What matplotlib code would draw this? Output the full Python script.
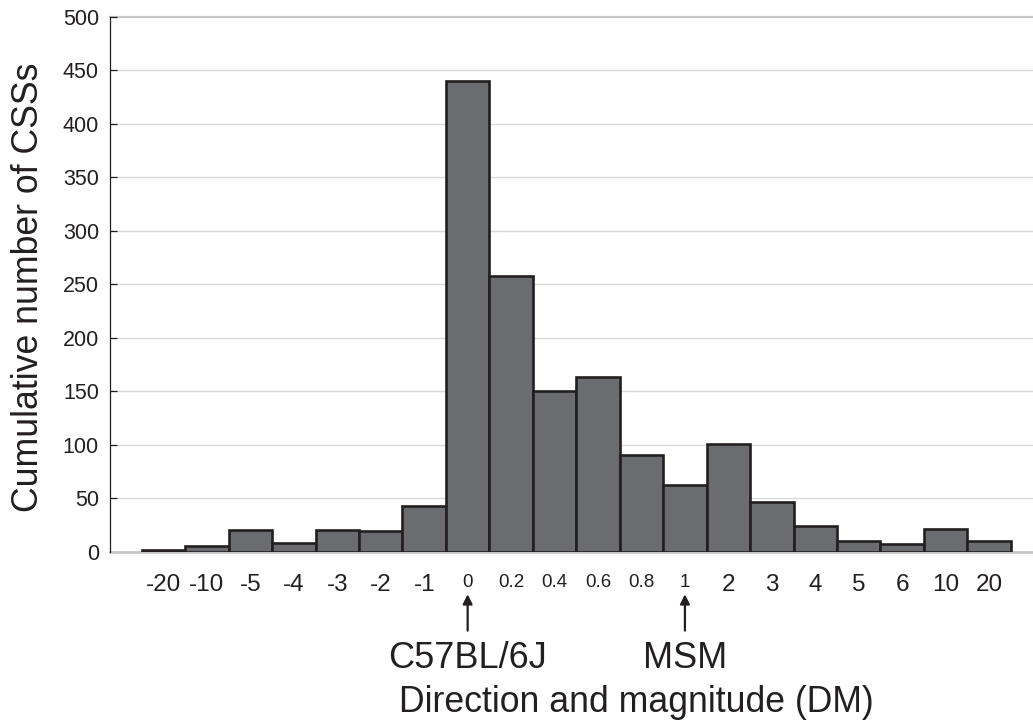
import numpy as np
import matplotlib
matplotlib.use("Agg")
import matplotlib.pyplot as plt
import matplotlib.transforms as mtrans

plt.rcParams["font.family"] = ["Liberation Sans", "DejaVu Sans"]

dm_labels = ["-20", "-10", "-5", "-4", "-3", "-2", "-1", "0", "0.2", "0.4",
             "0.6", "0.8", "1", "2", "3", "4", "5", "6", "10", "20"]
css_counts = [1, 5, 20, 8, 20, 19, 43, 440, 258, 150,
              163, 90, 62, 101, 46, 24, 10, 7, 21, 10]
small_labels = ["0", "0.2", "0.4", "0.6", "0.8", "1"]
y_ticks = [0, 50, 100, 150, 200, 250, 300, 350, 400, 450, 500]

BAR_COLOR = "#6b6c70"
EDGE_COLOR = "#231f20"

fig = plt.figure(figsize=(10.33, 7.27), dpi=100)
ax = fig.add_axes([0.1065, 0.2414, 0.8935, 0.7352])

x = np.arange(len(dm_labels))
ax.bar(x, css_counts, width=1.0, color=BAR_COLOR, edgecolor=EDGE_COLOR,
       linewidth=1.9, zorder=3)

ax.set_xlim(-1.23, 20.01)
ax.set_ylim(0, 500)

# horizontal gridlines
for yv in y_ticks[1:-1]:
    ax.axhline(yv, color="#d9d9d9", linewidth=1.0, zorder=1)
ax.axhline(500, color="#c8c8c8", linewidth=1.6, zorder=1, clip_on=False)

ax.spines["top"].set_visible(False)
ax.spines["right"].set_visible(False)
ax.spines["left"].set_color("#231f20")
ax.spines["left"].set_linewidth(0.9)
ax.spines["bottom"].set_color("#c8c8c8")
ax.spines["bottom"].set_linewidth(2.0)
ax.spines["bottom"].set_zorder(2)

ax.set_yticks(y_ticks)
ax.tick_params(axis="y", direction="in", length=5, width=0.9,
               color="#231f20", pad=8, labelsize=15.5, labelcolor="#231f20")
ax.set_xticks(x)
ax.set_xticklabels(dm_labels)
ax.tick_params(axis="x", length=0, pad=16, labelcolor="#231f20")
for lbl in ax.get_xticklabels():
    lbl.set_verticalalignment("top")
    if lbl.get_text() in small_labels:
        lbl.set_fontsize(13.5)
    else:
        lbl.set_fontsize(17.5)

# arrows marking the parental strains
trans = mtrans.blended_transform_factory(ax.transData, ax.transAxes)
for name, lab in [("C57BL/6J", "0"), ("MSM", "1")]:
    xi = dm_labels.index(lab)
    ax.annotate("", xy=(xi, -0.080), xytext=(xi, -0.148),
                xycoords=trans, textcoords=trans,
                arrowprops=dict(arrowstyle="-|>", color="#231f20",
                                linewidth=1.6, mutation_scale=14,
                                shrinkA=0, shrinkB=0),
                annotation_clip=False)
    ax.text(xi, -0.200, name, transform=trans, ha="center", va="center",
            fontsize=26, color="#231f20", clip_on=False)

fig.text(636 / 1033, 1 - 702 / 727, "Direction and magnitude (DM)",
         ha="center", va="center", fontsize=25.7, color="#231f20")
fig.text(29 / 1033, 1 - 287 / 727, "Cumulative number of CSSs",
         ha="center", va="center", rotation=90, fontsize=25.7,
         color="#231f20")

fig.savefig("out.png", dpi=100)
